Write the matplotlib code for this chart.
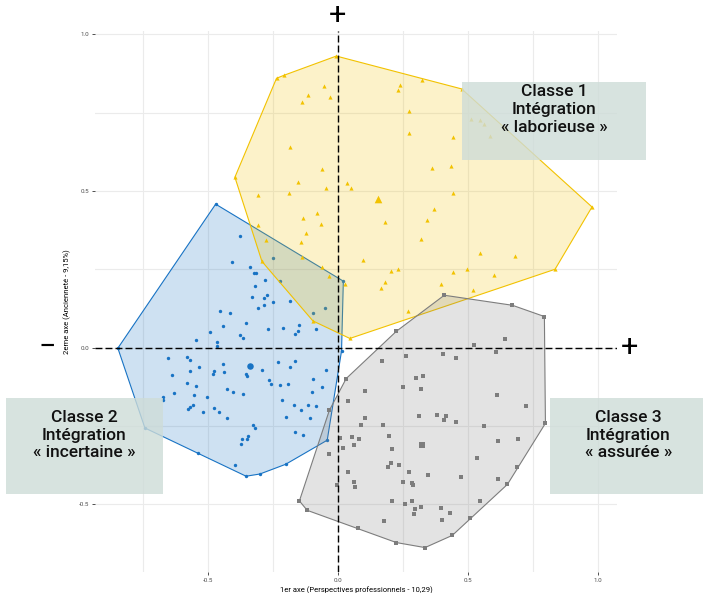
import matplotlib
matplotlib.use('Agg')
import matplotlib.pyplot as plt
from matplotlib.patches import Polygon, Rectangle
import numpy as np

# Coordonnees des individus sur le plan factoriel 1-2, par classe
classe2_x = [-0.377, -0.405, -0.336, -0.321, -0.314, -0.317, -0.278, -0.223, -0.331, -0.282,
             -0.272, -0.250, -0.182, -0.451, -0.413, -0.306, -0.283, -0.047, -0.094, -0.354,
             -0.440, -0.269, -0.209, -0.149, -0.151, -0.162, -0.082, -0.492, -0.546, -0.465,
             -0.465, -0.374, -0.364, -0.651, -0.581, -0.568, -0.440, -0.231, -0.162, -0.182,
             -0.533, -0.637, -0.568, -0.481, -0.474, -0.435, -0.353, -0.347, -0.291, -0.262,
             -0.256, -0.222, -0.190, -0.096, -0.044, -0.578, -0.545, -0.424, -0.401, -0.365,
             -0.100, -0.059, -0.628, -0.551, -0.503, -0.672, -0.672, -0.215, -0.167, -0.114,
             -0.083, -0.141, -0.555, -0.567, -0.576, -0.518, -0.477, -0.458, -0.424, -0.199,
             -0.106, -0.324, -0.319, -0.346, -0.367, -0.347, -0.372, -0.163, -0.132, -0.394,
             -0.247, -0.469, 0.022, 0.015, -0.040, -0.200, -0.299, -0.352, -0.536, -0.741,
             -0.845]
classe2_y = [0.357, 0.273, 0.256, 0.238, 0.238, 0.198, 0.215, 0.211, 0.163, 0.159,
             0.168, 0.147, 0.150, 0.116, 0.110, 0.127, 0.137, 0.125, 0.109, 0.078,
             0.069, 0.058, 0.063, 0.071, 0.054, 0.042, 0.058, 0.050, 0.025, 0.018,
             0.006, 0.039, 0.029, -0.035, -0.029, -0.041, -0.054, -0.047, -0.043, -0.062,
             -0.063, -0.089, -0.074, -0.086, -0.076, -0.079, -0.083, -0.092, -0.073, -0.104,
             -0.118, -0.120, -0.117, -0.100, -0.072, -0.114, -0.123, -0.134, -0.142, -0.149,
             -0.142, -0.127, -0.144, -0.153, -0.157, -0.157, -0.168, -0.166, -0.183, -0.182,
             -0.186, -0.201, -0.183, -0.191, -0.196, -0.207, -0.193, -0.205, -0.224, -0.222,
             -0.226, -0.249, -0.258, -0.282, -0.292, -0.292, -0.309, -0.271, -0.280, -0.375,
             0.286, 0.458, 0.212, -0.011, -0.296, -0.373, -0.404, -0.411, -0.336, -0.257,
             -0.002]

classe1_x = [-0.051, -0.113, -0.028, -0.136, 0.241, 0.233, 0.274, 0.274, 0.444, 0.513,
             0.546, 0.564, 0.585, -0.182, -0.059, -0.154, -0.044, 0.037, 0.050, 0.364,
             0.437, -0.308, -0.187, 0.445, 0.369, -0.079, -0.133, -0.063, 0.182, 0.344,
             -0.306, -0.121, -0.141, -0.277, 0.322, 0.546, 0.681, -0.138, 0.097, -0.059,
             -0.033, 0.206, 0.233, 0.444, 0.496, 0.600, 0.183, 0.167, 0.399, 0.522,
             0.027, 0.272, -0.005, -0.235, -0.205, -0.395, -0.291, -0.095, 0.047, 0.836,
             0.978, 0.477, 0.326]
classe1_y = [0.835, 0.807, 0.799, 0.783, 0.839, 0.822, 0.757, 0.684, 0.674, 0.729,
             0.726, 0.713, 0.676, 0.640, 0.569, 0.528, 0.509, 0.526, 0.510, 0.574,
             0.579, 0.486, 0.493, 0.493, 0.443, 0.431, 0.413, 0.394, 0.402, 0.406,
             0.390, 0.365, 0.338, 0.342, 0.347, 0.301, 0.292, 0.288, 0.279, 0.258,
             0.227, 0.246, 0.252, 0.240, 0.250, 0.231, 0.209, 0.189, 0.203, 0.185,
             0.203, 0.116, 0.931, 0.860, 0.870, 0.544, 0.275, 0.085, 0.029, 0.250,
             0.449, 0.826, 0.855]

classe3_x = [0.526, 0.645, 0.610, 0.406, 0.456, 0.264, 0.172, 0.303, 0.329, 0.253,
             0.322, 0.106, 0.041, 0.614, 0.726, 0.314, 0.383, 0.418, 0.410, 0.456,
             0.106, 0.091, 0.176, 0.564, 0.010, 0.056, 0.083, 0.199, 0.064, 0.022,
             0.210, 0.618, 0.695, -0.032, 0.206, 0.195, 0.237, 0.276, 0.349, 0.537,
             0.476, 0.041, 0.064, 0.068, 0.253, 0.287, 0.291, 0.618, 0.549, -0.001,
             0.210, 0.260, 0.287, 0.322, 0.299, 0.295, 0.399, 0.433, 0.403, 0.179,
             0.410, 0.672, 0.795, 0.799, 0.688, 0.653, 0.510, 0.441, 0.336, 0.226,
             0.079, -0.117, -0.147, -0.032, 0.033, 0.226]
classe3_y = [0.007, 0.026, -0.015, -0.022, -0.035, -0.028, -0.044, -0.096, -0.090, -0.125,
             -0.134, -0.140, -0.172, -0.153, -0.188, -0.220, -0.217, -0.220, -0.233, -0.239,
             -0.226, -0.246, -0.246, -0.252, -0.290, -0.286, -0.293, -0.284, -0.310, -0.322,
             -0.325, -0.300, -0.293, -0.341, -0.370, -0.383, -0.376, -0.396, -0.408, -0.354,
             -0.415, -0.399, -0.428, -0.444, -0.428, -0.432, -0.440, -0.421, -0.489, -0.439,
             -0.490, -0.501, -0.489, -0.509, -0.517, -0.533, -0.514, -0.530, -0.552, -0.555,
             0.167, 0.135, 0.099, -0.242, -0.383, -0.437, -0.546, -0.600, -0.639, -0.623,
             -0.578, -0.520, -0.490, -0.201, -0.099, 0.052]

# centres de classes
centre_x = [0.155, -0.336, 0.326]
centre_y = [0.473, -0.060, -0.310]

noms_classes = ['Classe 1\nIntégration\n« laborieuse »',
                'Classe 2\nIntégration\n« incertaine »',
                'Classe 3\nIntégration\n« assurée »']
couleurs = ['#f2c200', '#1873c4', '#7d7d7d']
marqueurs = ['^', 'o', 's']
ticks = [-0.5, 0.0, 0.5, 1.0]


def enveloppe(xs, ys):
    # enveloppe convexe (monotone chain)
    pts = sorted(set(zip(xs, ys)))

    def cross(o, a, b):
        return (a[0] - o[0]) * (b[1] - o[1]) - (a[1] - o[1]) * (b[0] - o[0])

    bas, haut = [], []
    for p in pts:
        while len(bas) >= 2 and cross(bas[-2], bas[-1], p) <= 0:
            bas.pop()
        bas.append(p)
    for p in reversed(pts):
        while len(haut) >= 2 and cross(haut[-2], haut[-1], p) <= 0:
            haut.pop()
        haut.append(p)
    return bas[:-1] + haut[:-1]


def main():
    plt.rcParams['font.family'] = ['Roboto', 'DejaVu Sans']
    fig = plt.figure(figsize=(7.03, 5.93), dpi=100)
    ax = fig.add_axes([0.1351, 0.0354, 0.7425, 0.9123])

    groupes = [(classe2_x, classe2_y, 1), (classe1_x, classe1_y, 0), (classe3_x, classe3_y, 2)]
    tailles = {'o': 6, '^': 9, 's': 7}
    tailles_c = {'o': 22, '^': 30, 's': 22}
    z = 2
    for xs, ys, k in groupes:
        col = couleurs[k]
        poly = Polygon(enveloppe(xs, ys), closed=True, facecolor=col, alpha=0.21,
                       edgecolor='none', zorder=z)
        ax.add_patch(poly)
        ax.add_patch(Polygon(enveloppe(xs, ys), closed=True, facecolor='none',
                             edgecolor=col, linewidth=0.8, zorder=z + 0.1))
        ax.scatter(xs, ys, s=tailles[marqueurs[k]], marker=marqueurs[k], color=col,
                   linewidths=0, zorder=z + 0.2)
        ax.scatter([centre_x[k]], [centre_y[k]], s=tailles_c[marqueurs[k]], marker=marqueurs[k],
                   color=col, linewidths=0, zorder=z + 0.2)
        z += 1

    ax.axvline(0, color='black', linestyle=(0, (5, 2.2)), linewidth=1.0, zorder=6)
    ax.axhline(0, color='black', linestyle=(0, (5, 2.2)), linewidth=1.0, zorder=6)

    ax.set_xlim(-0.933, 1.074)
    ax.set_ylim(-0.717, 1.011)
    ax.set_xticks(ticks)
    ax.set_yticks(ticks)
    ax.set_xticklabels(['%.1f' % t for t in ticks])
    ax.set_yticklabels(['%.1f' % t for t in ticks])
    ax.set_xticks([-0.75, -0.25, 0.25, 0.75], minor=True)
    ax.set_yticks([-0.25, 0.25, 0.75], minor=True)
    ax.grid(True, which='both', color='#ebebeb', linewidth=0.8, zorder=0)
    ax.set_axisbelow(True)
    ax.tick_params(which='major', length=2, width=0.6, color='#333333',
                   labelsize=4.5, labelcolor='#4d4d4d', pad=2)
    ax.tick_params(which='minor', length=0)
    for s in ax.spines.values():
        s.set_visible(False)
    ax.set_xlabel('1er axe (Perspectives professionnels - 10,29)', fontsize=5.5, labelpad=3)
    ax.set_ylabel('2eme axe (Ancienneté - 9,15%)', fontsize=5.5, labelpad=6)

    # signes aux extremites des axes
    ax.text(0, 1.062, '+', fontsize=22, ha='center', va='center', clip_on=False)
    ax.text(-1.118, 0.0, '−', fontsize=22, ha='center', va='center', clip_on=False)
    ax.text(1.124, 0.0, '+', fontsize=22, ha='center', va='center', clip_on=False)

    # cartouches des classes
    cadres = [(0.478, 0.599, 0.708, 0.249), (-1.276, -0.468, 0.604, 0.307),
              (0.818, -0.468, 0.587, 0.307)]
    textes = [(0.832, 0.760), (-0.974, -0.280), (1.117, -0.280)]
    for k in range(3):
        x0, y0, w, h = cadres[k]
        ax.add_patch(Rectangle((x0, y0), w, h, facecolor='#cedcd8', alpha=0.8,
                               edgecolor='none', clip_on=False, zorder=8))
        tx, ty = textes[k]
        ax.text(tx, ty, noms_classes[k], fontsize=12.5, fontweight='medium', ha='center',
                va='center', linespacing=1.22, color='#111111', clip_on=False, zorder=9)

    plt.savefig('out.png', dpi=100)
    plt.clf()


if __name__ == '__main__':
    main()
